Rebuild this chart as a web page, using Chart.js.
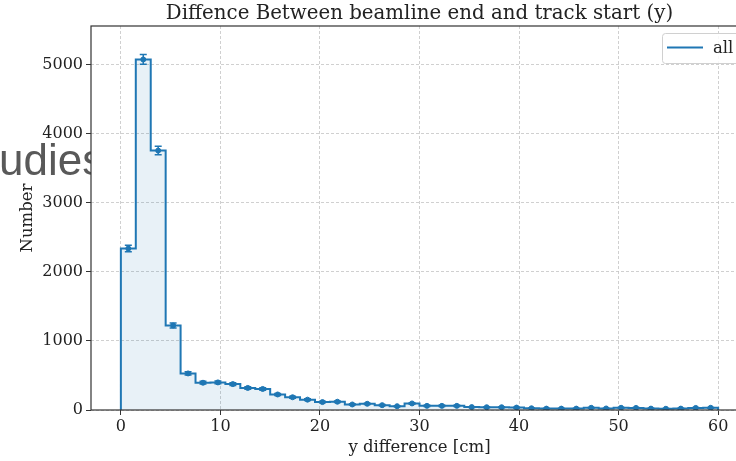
<!DOCTYPE html>
<html>
<head>
<meta charset="utf-8">
<script src="https://cdn.jsdelivr.net/npm/chart.js@4.4.1/dist/chart.umd.min.js"></script>
<style>
html, body { margin: 0; padding: 0; background: #fff; overflow: hidden; width: 736px; height: 461px; }
</style>
</head>
<body>
<canvas id="graphCanvas" width="780" height="461"></canvas>
<script>
// histogram bins (cm) and counts
var binEdges = [0, 1.5, 3, 4.5, 6, 7.5, 9, 10.5, 12, 13.5, 15, 16.5, 18, 19.5, 21, 22.5, 24, 25.5, 27, 28.5,
                30, 31.5, 33, 34.5, 36, 37.5, 39, 40.5, 42, 43.5, 45, 46.5, 48, 49.5, 51, 52.5, 54, 55.5, 57, 58.5, 60];
var counts = [2340, 5080, 3760, 1225, 530, 395, 400, 375, 320, 305,
              225, 185, 150, 115, 120, 80, 90, 70, 55, 95,
              60, 60, 60, 42, 40, 40, 35, 25, 20, 20,
              20, 32, 22, 32, 30, 20, 18, 20, 30, 32];
var errors = [48, 71, 61, 35, 23, 20, 20, 19, 18, 17,
              15, 14, 12, 11, 11, 9, 9, 8, 7, 10,
              8, 8, 8, 6, 6, 6, 6, 5, 4, 4,
              4, 6, 5, 6, 5, 4, 4, 4, 5, 6];
var xTicks = [0, 10, 20, 30, 40, 50, 60];
var yTicks = [0, 1000, 2000, 3000, 4000, 5000];
var seriesName = 'all';

var chartTitle = 'Diffence Between beamline end and track start (y)';
var xTitle = 'y difference [cm]';
var yTitle = 'Number';

var blue = '#1f77b4';
var serif = "'DejaVu Serif', serif";

// step outline points and bin centres
var stepPoints = [{x: binEdges[0], y: 0}];
var centres = [];
for (var i = 0; i < counts.length; i++) {
    stepPoints.push({x: binEdges[i], y: counts[i]});
    centres.push({x: (binEdges[i] + binEdges[i + 1]) / 2, y: counts[i]});
}
stepPoints.push({x: binEdges[binEdges.length - 1], y: counts[counts.length - 1]});
stepPoints.push({x: binEdges[binEdges.length - 1], y: 0});

var decorations = {
    id: 'decorations',
    beforeDraw: function (chart) {
        var c = chart.ctx, a = chart.chartArea;
        c.save();
        // watermark text partly hidden behind the axes
        c.font = "44px 'Liberation Sans', Arial, sans-serif";
        c.fillStyle = '#595959';
        c.textBaseline = 'alphabetic';
        c.textAlign = 'left';
        c.fillText('Studies', -c.measureText('St').width - 1, 175);
        c.fillStyle = '#fff';
        c.fillRect(a.left, a.top, a.right - a.left, a.bottom - a.top);
        c.restore();
    },
    afterDatasetsDraw: function (chart) {
        var c = chart.ctx, xs = chart.scales.x, ys = chart.scales.y;
        c.save();
        c.strokeStyle = blue;
        c.lineWidth = 1.5;
        for (var i = 0; i < counts.length; i++) {
            var px = xs.getPixelForValue(centres[i].x);
            var y1 = ys.getPixelForValue(counts[i] + errors[i]);
            var y2 = ys.getPixelForValue(counts[i] - errors[i]);
            c.beginPath();
            c.moveTo(px, y1); c.lineTo(px, y2);
            c.moveTo(px - 3.5, y1); c.lineTo(px + 3.5, y1);
            c.moveTo(px - 3.5, y2); c.lineTo(px + 3.5, y2);
            c.stroke();
        }
        c.restore();
    },
    afterDraw: function (chart) {
        var c = chart.ctx, a = chart.chartArea;
        c.save();
        // axes frame
        c.strokeStyle = '#333';
        c.lineWidth = 1.2;
        c.strokeRect(a.left, a.top, a.right - a.left, a.bottom - a.top);
        // titles
        c.fillStyle = '#222';
        c.textAlign = 'center';
        c.textBaseline = 'alphabetic';
        c.font = '19.8px ' + serif;
        c.fillText(chartTitle, (a.left + a.right) / 2, 19);
        c.font = '16.5px ' + serif;
        c.fillText(xTitle, (a.left + a.right) / 2, 452);
        c.translate(32, (a.top + a.bottom) / 2);
        c.rotate(-Math.PI / 2);
        c.fillText(yTitle, 0, 0);
        c.setTransform(1, 0, 0, 1, 0, 0);
        // legend
        var lx = 662, ly = 33;
        c.fillStyle = 'rgba(255,255,255,0.85)';
        c.strokeStyle = '#d0d0d0';
        c.lineWidth = 1;
        c.beginPath();
        c.roundRect(lx + 0.5, ly + 0.5, 100, 30, 3);
        c.fill();
        c.stroke();
        c.strokeStyle = blue;
        c.lineWidth = 2;
        c.beginPath();
        c.moveTo(lx + 5, ly + 14.5);
        c.lineTo(lx + 41, ly + 14.5);
        c.stroke();
        c.fillStyle = '#222';
        c.textAlign = 'left';
        c.font = '16.5px ' + serif;
        c.fillText(seriesName, lx + 51, ly + 20);
        c.restore();
    }
};

var gridStyle = {
    color: '#c4c4c4',
    lineWidth: 0.8,
    tickColor: '#333',
    tickLength: 5,
    tickWidth: 1,
    tickBorderDash: []
};

function plainLabel(v) { return String(v); }

new Chart(document.getElementById('graphCanvas'), {
    type: 'line',
    data: {
        datasets: [
            {
                label: seriesName,
                data: stepPoints,
                stepped: 'before',
                borderColor: blue,
                borderWidth: 2,
                backgroundColor: 'rgba(31,119,180,0.1)',
                fill: 'origin',
                pointRadius: 0
            },
            {
                type: 'scatter',
                label: seriesName + ' err',
                data: centres,
                showLine: false,
                pointRadius: 2.5,
                backgroundColor: blue,
                borderColor: blue
            }
        ]
    },
    options: {
        responsive: false,
        animation: false,
        layout: { padding: { top: 26, right: 32, left: 0, bottom: 0 } },
        plugins: { legend: { display: false }, tooltip: { enabled: false }, title: { display: false } },
        scales: {
            x: {
                type: 'linear',
                min: -3,
                max: 63,
                afterBuildTicks: function (s) { s.ticks = xTicks.map(function (v) { return {value: v}; }); },
                afterFit: function (s) { s.height = 51; },
                ticks: { color: '#222', font: { family: serif, size: 16 }, padding: 2, maxRotation: 0, callback: plainLabel },
                grid: gridStyle,
                border: { display: false, dash: [3, 2] }
            },
            y: {
                min: 0,
                max: 5565,
                afterBuildTicks: function (s) { s.ticks = yTicks.map(function (v) { return {value: v}; }); },
                afterFit: function (s) { s.width = 91; },
                ticks: { color: '#222', font: { family: serif, size: 16 }, padding: 3, callback: plainLabel },
                grid: gridStyle,
                border: { display: false, dash: [3, 2] }
            }
        }
    },
    plugins: [decorations]
});
</script>
</body>
</html>
